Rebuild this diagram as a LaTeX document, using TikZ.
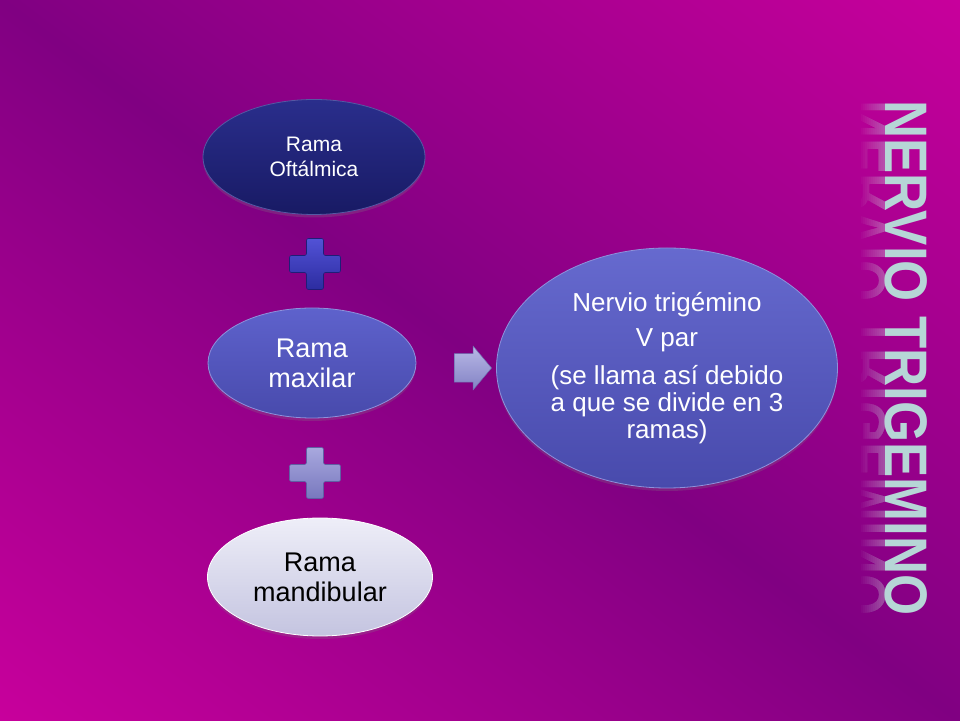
\documentclass[tikz,border=0pt]{standalone}
\usepackage{fontspec}
\setmainfont{Liberation Sans}
\usetikzlibrary{positioning, shapes.geometric, shapes.arrows, shadows}

\definecolor{bgpink}{RGB}{206,0,158}
\definecolor{bgpurple}{RGB}{128,0,130}
\definecolor{navytop}{RGB}{42,46,140}
\definecolor{navybot}{RGB}{24,26,100}
\definecolor{bluetop}{RGB}{94,98,204}
\definecolor{bluebot}{RGB}{72,74,172}
\definecolor{paletop}{RGB}{238,238,248}
\definecolor{palebot}{RGB}{196,196,224}
\definecolor{titlecol}{RGB}{182,214,214}

\pgfdeclarehorizontalshading{bgshade}{100bp}{color(0bp)=(bgpink); color(12bp)=(bgpink); color(50bp)=(bgpurple);
  color(88bp)=(bgpink); color(100bp)=(bgpink)}

\tikzset{
  branch/.style={ellipse, inner sep=0pt, align=center, line width=0.8pt,
    drop shadow={opacity=0.25, shadow xshift=0pt, shadow yshift=-3pt}},
  plusdark/.style={rounded corners=2pt, top color={rgb,255:red,82;green,82;blue,214}, bottom color={rgb,255:red,44;green,44;blue,160},
    draw={rgb,255:red,30;green,30;blue,120}, line width=0.6pt},
  pluslight/.style={rounded corners=2pt, top color={rgb,255:red,168;green,168;blue,222}, bottom color={rgb,255:red,120;green,120;blue,190},
    draw={rgb,255:red,96;green,96;blue,164}, line width=0.6pt},
  titletext/.style={font=\fontsize{60}{60}\selectfont\bfseries, inner sep=0pt, anchor=base, rotate=-90}
}

\begin{document}
\begin{tikzpicture}[x=1pt, y=1pt]
  % Background
  \shade[shading=bgshade, shading angle=53.13] (0,0) rectangle (960,720);
  \useasboundingbox (0,0) rectangle (960,720);

  % Branches
  \node[branch, minimum width=222pt, minimum height=115pt, top color=navytop, bottom color=navybot, draw=navytop!80!white, text=white,
    font=\fontsize{21}{25}\selectfont] (oft) at (314,563) {Rama\\Oftálmica};
  \node[branch, minimum width=208pt, minimum height=110pt, top color=bluetop, bottom color=bluebot, draw=bluetop!70!white, text=white,
    font=\fontsize{27}{30}\selectfont] (maxi) at (312,357) {Rama\\maxilar};
  \node[branch, minimum width=225pt, minimum height=118pt, top color=paletop, bottom color=palebot, draw=white, text=black,
    font=\fontsize{27}{30}\selectfont] (mand) at (320,143) {Rama\\mandibular};

  % Plus signs
  \foreach \py/\pc in {456/plusdark, 247/pluslight} {
    \draw[\pc] (315,\py) ++(-8.5,25.5) -- ++(17,0) -- ++(0,-17) -- ++(17,0) -- ++(0,-17) -- ++(-17,0)
      -- ++(0,-17) -- ++(-17,0) -- ++(0,17) -- ++(-17,0) -- ++(0,17) -- ++(17,0) -- cycle;
  }

  % Result
  \node[single arrow, minimum height=37pt, inner sep=0pt, single arrow head extend=7.5pt, single arrow tip angle=100,
    top color={rgb,255:red,184;green,184;blue,230}, bottom color={rgb,255:red,130;green,130;blue,196},
    draw={rgb,255:red,110;green,110;blue,176}, line width=0.5pt] (arr) at (467,352) {\rule{0pt}{28pt}};
  \node[branch, minimum width=341pt, minimum height=240pt, top color=bluetop!95!white, bottom color=bluebot, draw=bluetop!70!white, text=white,
    font=\fontsize{26}{27}\selectfont] (nervio) at (667,352)
    {Nervio trigémino\\[8pt] V par\\[11pt] (se llama así debido\\ a que se divide en 3\\ ramas)};

  % Title and its reflection
  \foreach \k in {1,...,12} {
    \begin{scope}
      \clip (885-2*\k,90) rectangle (885,630);
      \node[titletext, yscale=-1, text=titlecol!60!white, opacity=0.035] (refl\k) at (885,362) {\scalebox{0.88}[1]{NERVIO TRIGEMINO}};
    \end{scope}
  }
  \node[titletext, text=titlecol] (title) at (885,362) {\scalebox{0.88}[1]{NERVIO TRIGEMINO}};
\end{tikzpicture}
\end{document}
